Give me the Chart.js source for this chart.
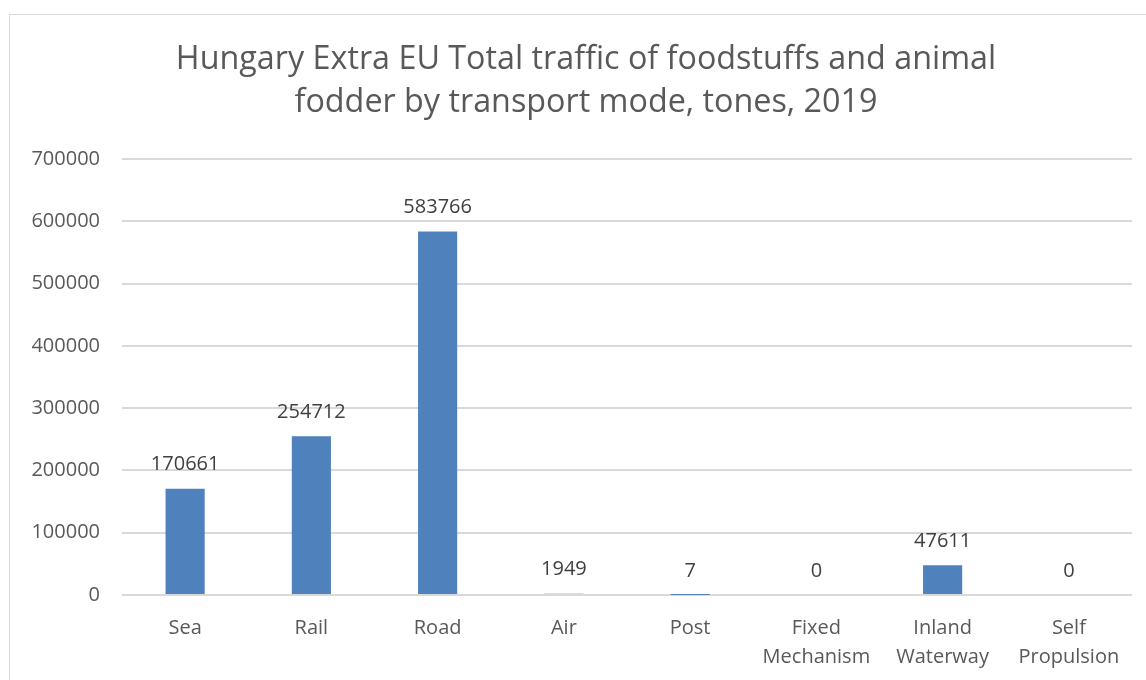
<!DOCTYPE html>
<html>
<head>
<meta charset="utf-8">
<script src="https://cdn.jsdelivr.net/npm/chart.js@4.4.1/dist/chart.umd.min.js"></script>
<style>
html,body{margin:0;padding:0;background:#fff;overflow:hidden;width:1146px;height:680px;}
#frame{position:absolute;left:9px;top:14px;width:2000px;height:2000px;border:1px solid #d9d9d9;box-sizing:border-box;}
#wrap{position:absolute;left:0;top:0;width:1146px;height:680px;}
</style>
</head>
<body>
<div id="frame"></div>
<div id="wrap"><canvas id="c" width="1146" height="680"></canvas></div>
<script>
const categories = [["Sea"], ["Rail"], ["Road"], ["Air"], ["Post"], ["Fixed", "Mechanism"], ["Inland", "Waterway"], ["Self", "Propulsion"]];
const values = [170661, 254712, 583766, 1949, 7, 0, 47611, 0];
const yTicks = [0, 100000, 200000, 300000, 400000, 500000, 600000, 700000];
const titleLines = ["Hungary Extra EU Total traffic of foodstuffs and animal", "fodder by transport mode, tones, 2019"];

const FONT = "'Open Sans', 'Noto Sans', sans-serif";

const dataLabels = {
  id: 'dataLabels',
  afterDatasetsDraw(chart) {
    const ctx = chart.ctx;
    const meta = chart.getDatasetMeta(0);
    ctx.save();
    ctx.font = "20px " + FONT;
    ctx.fillStyle = "#404040";
    ctx.textAlign = "center";
    ctx.textBaseline = "middle";
    meta.data.forEach((bar, i) => {
      ctx.fillText(String(values[i]), bar.x, bar.y - 24);
    });
    ctx.restore();
  }
};

const titleDraw = {
  id: 'titleDraw',
  afterDraw(chart) {
    const ctx = chart.ctx;
    ctx.save();
    ctx.font = "32.3px " + FONT;
    ctx.fillStyle = "#595959";
    ctx.textAlign = "center";
    ctx.textBaseline = "middle";
    titleLines.forEach((t, i) => ctx.fillText(t, 586, 60 + i * 43));
    ctx.restore();
  }
};

new Chart(document.getElementById('c'), {
  type: 'bar',
  data: {
    labels: categories,
    datasets: [{
      data: values,
      backgroundColor: '#4f81bd',
      borderWidth: 0,
      barPercentage: 0.31,
      categoryPercentage: 1.0
    }]
  },
  options: {
    responsive: false,
    animation: false,
    devicePixelRatio: 1,
    layout: { padding: { left: 0, right: 14, top: 159, bottom: 0 } },
    plugins: {
      legend: { display: false },
      tooltip: { enabled: false },
      title: { display: false }
    },
    scales: {
      x: {
        grid: { display: false, drawTicks: false },
        border: { display: false },
        ticks: {
          color: '#595959',
          font: { family: FONT, size: 20, lineHeight: 1.45 },
          padding: 19,
          maxRotation: 0,
          autoSkip: false
        },
        afterFit(s) { s.height = 85; }
      },
      y: {
        min: 0,
        max: 700000,
        afterBuildTicks(s) { s.ticks = yTicks.map(v => ({ value: v })); },
        grid: { color: '#d9d9d9', lineWidth: 2, drawTicks: false },
        border: { display: false },
        ticks: {
          color: '#595959',
          font: { family: FONT, size: 20 },
          padding: 22,
          callback: (v) => String(v)
        },
        afterFit(s) { s.width = 122; }
      }
    }
  },
  plugins: [dataLabels, titleDraw]
});
</script>
</body>
</html>
